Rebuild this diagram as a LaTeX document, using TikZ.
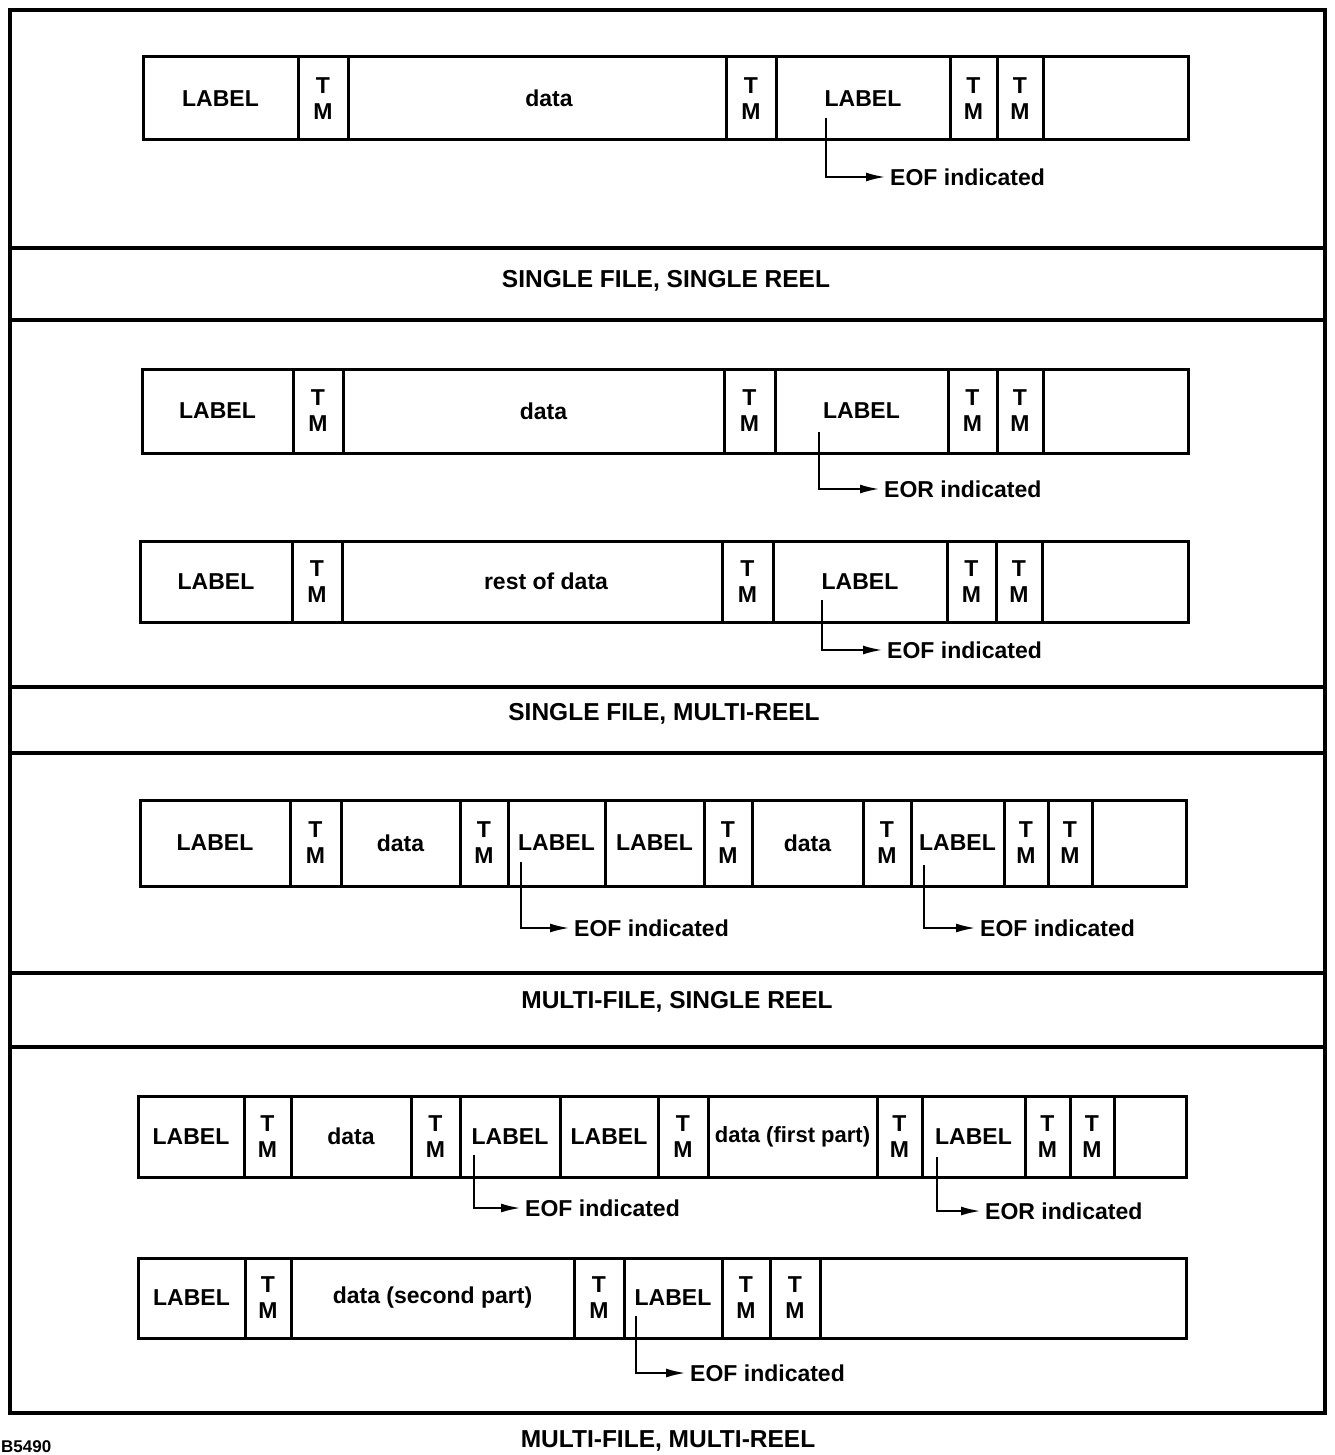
\documentclass[tikz,border=0pt]{standalone}
\usepackage{fontspec}
\setmainfont{Liberation Sans}
\usetikzlibrary{arrows.meta}
\newcommand\tapefont{\bfseries\fontsize{23}{26}\selectfont}
\tikzset{
  cell/.style={draw, line width=3pt, inner sep=0pt, align=center, font=\tapefont},
  frameline/.style={line width=3.5pt},
  arr/.style={line width=2.5pt, -{Latex[length=20pt,width=9pt]}},
  note/.style={anchor=west, inner sep=4pt, font=\tapefont},
  title/.style={inner sep=2pt, font=\bfseries\fontsize{24.5}{28}\selectfont},
}
% #1 prefix, #2 y top, #3 y bottom, #4 list x1/x2/text
\newcommand\drawtape[4]{%
  \foreach \xa/\xb/\txt [count=\i] in {#4} {
    \pgfmathsetmacro\cellw{\xb-\xa}
    \pgfmathsetmacro\cellh{#3-#2}
    \node[cell, minimum width=\cellw pt, minimum height=\cellh pt] (#1\i)
      at ({(\xa+\xb)/2},{(#2+#3)/2}) {\txt};
  }%
}
\begin{document}
\begin{tikzpicture}[x=1pt,y=-1pt]
\useasboundingbox (0,0) rectangle (1334,1455);
% frame and bands
\draw[frameline] (10,10) rectangle (1325,1413);
\foreach \yy in {248,320,687,753,973,1047} \draw[frameline] (10,\yy) -- (1325,\yy);
\node[title] (t1) at (666,281) {SINGLE FILE, SINGLE REEL};
\node[title] (t2) at (664,714) {SINGLE FILE, MULTI-REEL};
\node[title] (t3) at (677,1002) {MULTI-FILE, SINGLE REEL};
\node[title] (t4) at (668,1441) {MULTI-FILE, MULTI-REEL};
\node[anchor=base west, inner sep=0pt, font=\bfseries\fontsize{17}{20}\selectfont] (code) at (1,1452) {B5490};

% row 1
\drawtape{a}{57}{140}{143/298/LABEL, 298/348/{T\\M}, 348/726/{\hspace*{24pt}data}, 726/776/{T\\M}, 776/950/LABEL, 950/997/{T\\M}, 997/1043/{T\\M}, 1043/1188/{}}
\coordinate (s1) at (826,118);
\node[note] (e1) at (886,177) {EOF indicated};
\draw[arr] (s1) |- (e1.west);

% row 2
\drawtape{b}{369}{453}{142/293/LABEL, 293/343/{T\\M}, 343/724/{\hspace*{20pt}data}, 724/775/{T\\M}, 775/948/LABEL, 948/997/{T\\M}, 997/1043/{T\\M}, 1043/1188/{}}
\coordinate (s2) at (819,432);
\node[note] (e2) at (880,489) {EOR indicated};
\draw[arr] (s2) |- (e2.west);

% row 3
\drawtape{c}{541}{622}{140/292/LABEL, 292/342/{T\\M}, 342/722/{\hspace*{28pt}rest of data}, 722/773/{T\\M}, 773/947/LABEL, 947/996/{T\\M}, 996/1042/{T\\M}, 1042/1188/{}}
\coordinate (s3) at (822,600);
\node[note] (e3) at (883,650) {EOF indicated};
\draw[arr] (s3) |- (e3.west);

% row 4
\drawtape{d}{800}{886}{140/290/LABEL, 290/341/{T\\M}, 341/460/data, 460/508/{T\\M}, 508/605/LABEL, 605/704/LABEL, 704/752/{T\\M}, 752/863/data, 863/911/{T\\M}, 911/1004/LABEL, 1004/1048/{T\\M}, 1048/1092/{T\\M}, 1092/1186/{}}
\coordinate (s4a) at (521,862);
\node[note] (e4a) at (570,928) {EOF indicated};
\draw[arr] (s4a) |- (e4a.west);
\coordinate (s4b) at (924,865);
\node[note] (e4b) at (976,928) {EOF indicated};
\draw[arr] (s4b) |- (e4b.west);

% row 5
\drawtape{e}{1096}{1177}{138/244/LABEL, 244/291/{T\\M}, 291/411/data, 411/460/{T\\M}, 460/560/LABEL, 560/658/LABEL, 658/708/{T\\M}, 708/877/{\fontsize{22}{26}\selectfont data (first part)}, 877/922/{T\\M}, 922/1025/LABEL, 1025/1070/{T\\M}, 1070/1114/{T\\M}, 1114/1186/{}}
\coordinate (s5a) at (474,1155);
\node[note] (e5a) at (521,1208) {EOF indicated};
\draw[arr] (s5a) |- (e5a.west);
\coordinate (s5b) at (937,1157);
\node[note] (e5b) at (981,1211) {EOR indicated};
\draw[arr] (s5b) |- (e5b.west);

% row 6
\drawtape{f}{1258}{1338}{138/245/LABEL, 245/291/{T\\M}, 291/574/{data (second part)}, 574/624/{T\\M}, 624/722/LABEL, 722/770/{T\\M}, 770/820/{T\\M}, 820/1186/{}}
\coordinate (s6) at (636,1316);
\node[note] (e6) at (686,1373) {EOF indicated};
\draw[arr] (s6) |- (e6.west);
\end{tikzpicture}
\end{document}
